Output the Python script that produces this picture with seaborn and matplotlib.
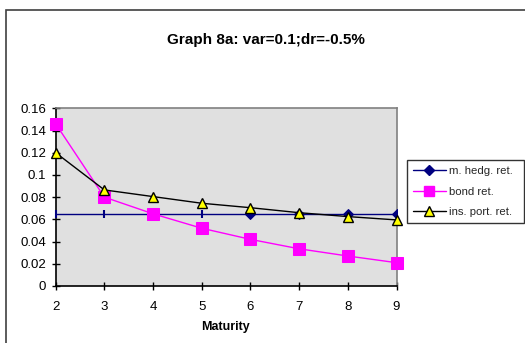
import matplotlib
matplotlib.use("Agg")
import matplotlib.pyplot as plt
import seaborn as sns
import pandas as pd
from matplotlib.patches import Rectangle
from matplotlib.lines import Line2D

maturity = [2, 3, 4, 5, 6, 7, 8, 9]
hedge_ret = [0.065, 0.065, 0.065, 0.065, 0.065, 0.065, 0.065, 0.065]
bond_ret = [0.146, 0.080, 0.065, 0.052, 0.042, 0.0335, 0.027, 0.021]
ins_ret = [0.120, 0.0865, 0.0805, 0.0745, 0.0705, 0.066, 0.0625, 0.0595]
series_names = ["m. hedg. ret.", "bond ret.", "ins. port. ret."]
y_ticks = [0, 0.02, 0.04, 0.06, 0.08, 0.1, 0.12, 0.14, 0.16]
y_tick_labels = ["0", "0.02", "0.04", "0.06", "0.08", "0.1", "0.12", "0.14", "0.16"]

df = pd.DataFrame({"Maturity": maturity, "hedge": hedge_ret, "bond": bond_ret, "ins": ins_ret})

sns.set_theme(style="white")
plt.rcParams["font.family"] = ["Liberation Sans", "DejaVu Sans"]

W, H = 525, 343
fig = plt.figure(figsize=(W / 100, H / 100), dpi=100)
fig.patch.set_facecolor("white")
ax = fig.add_axes([55.7 / W, 1 - 286 / H, (396.5 - 55.7) / W, (286 - 108.3) / H])
ax.set_facecolor("#E0E0E0")

navy = "#000080"
magenta = "#FF00FF"

# hedge line: diamonds on some maturities, thin bars on the others
sns.lineplot(data=df, x="Maturity", y="hedge", ax=ax, color=navy, lw=1.0,
             marker="D", markersize=5, markeredgecolor=navy, markerfacecolor=navy,
             markevery=[2, 4, 5, 6, 7], zorder=3)
sns.scatterplot(data=df.iloc[[0, 1, 3]], x="Maturity", y="hedge", ax=ax, marker="|",
                s=40, color=navy, linewidth=1.5, zorder=3, clip_on=False)
sns.lineplot(data=df, x="Maturity", y="bond", ax=ax, color=magenta, lw=1.0,
             marker="s", markersize=8, markeredgecolor=magenta, markerfacecolor=magenta,
             zorder=4, clip_on=False)
sns.lineplot(data=df, x="Maturity", y="ins", ax=ax, color="black", lw=1.0,
             marker="^", markersize=7, markeredgecolor="black", markerfacecolor="#FFFF00",
             markeredgewidth=1.0, zorder=5, clip_on=False)

ax.set_xlim(2, 9)
ax.set_ylim(0, 0.16)
ax.set_xticks(maturity)
ax.set_xticklabels([str(m) for m in maturity], fontsize=9.5)
ax.set_yticks(y_ticks)
ax.set_yticklabels(y_tick_labels, fontsize=9.5)
ax.tick_params(axis="both", direction="inout", length=6, width=1, color="black",
               labelcolor="black", left=True, bottom=True)
ax.tick_params(axis="x", pad=8)
ax.tick_params(axis="y", pad=4)
ax.set_xlabel("")
ax.set_ylabel("")
for side in ["left", "bottom"]:
    ax.spines[side].set_color("black")
    ax.spines[side].set_linewidth(1.2)
for side in ["top", "right"]:
    ax.spines[side].set_color("#808080")
    ax.spines[side].set_linewidth(1.2)
    ax.spines[side].set_visible(True)

fig.text(226 / W, 1 - 327 / H, "Maturity", ha="center", va="center",
         fontsize=9, fontweight="bold", color="black")
fig.text(266 / W, 1 - 40 / H, "Graph 8a: var=0.1;dr=-0.5%", ha="center", va="center",
         fontsize=11, fontweight="bold", color="black")

handles = [
    Line2D([], [], color=navy, lw=1.0, marker="D", markersize=5,
           markerfacecolor=navy, markeredgecolor=navy),
    Line2D([], [], color=magenta, lw=1.0, marker="s", markersize=7,
           markerfacecolor=magenta, markeredgecolor=magenta),
    Line2D([], [], color="black", lw=1.0, marker="^", markersize=7,
           markerfacecolor="#FFFF00", markeredgecolor="black"),
]
leg_x0, leg_y1 = 406.7 / W, 1 - 160 / H
leg = fig.legend(handles, series_names, loc="upper left", mode="expand",
                 bbox_to_anchor=(leg_x0, leg_y1 - 0.2, 117.3 / W, 0.2),
                 bbox_transform=fig.transFigure,
                 fontsize=8.2, frameon=True, fancybox=False, shadow=False,
                 borderpad=0.55, labelspacing=0.9, handlelength=2.9, handletextpad=0.3,
                 borderaxespad=0)
leg.get_frame().set_edgecolor("black")
leg.get_frame().set_linewidth(1.0)

# chart area border
fig.patches.append(Rectangle((6 / W, -0.1), 1.2, (H - 9.5) / H + 0.1,
                             transform=fig.transFigure, fill=False,
                             edgecolor="#404040", linewidth=1.2))

fig.savefig("out.png", dpi=100)
